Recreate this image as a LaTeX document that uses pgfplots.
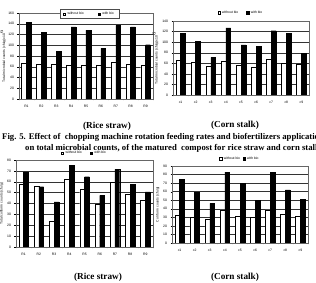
\documentclass[border=0pt]{standalone}
\usepackage{pgfplots}
\pgfplotsset{compat=1.18}
\usepackage{fontspec}
\setmainfont{Liberation Serif}
\newfontfamily\chartfont{Liberation Sans}
\newcommand{\tinyfont}{\chartfont\fontsize{3.4}{4}\selectfont}

\pgfplotsset{
  panel/.style={
    scale only axis,
    anchor=south west,
    ybar=0pt,
    bar width=4.8pt,
    xmin=0.5, xmax=9.5,
    ymin=0,
    xtick={1,...,9},
    minor xtick={0.5,1.5,...,9.5},
    major x tick style={draw=none},
    minor x tick style={black, line width=0.3pt},
    tick align=outside,
    ytick pos=left,
    xtick pos=bottom,
    major tick length=1.5pt,
    minor tick length=1.5pt,
    ymajorgrids,
    major grid style={black!80, line width=0.4pt},
    axis line style={black!60, line width=0.4pt},
    tick style={black, line width=0.3pt},
    tick label style={font=\tinyfont},
    /pgf/number format/assume math mode=true,
    label style={font=\tinyfont},
    ylabel shift=-3pt,
    xticklabel style={yshift=-1pt},
    legend columns=2,
    legend style={font=\tinyfont, draw=none, fill=none,
      /tikz/every even column/.append style={column sep=6pt}},
    legend image code/.code={\draw[#1, line width=0.3pt] (0pt,-1pt) rectangle (2.2pt,1.2pt);},
  },
  wobio/.style={draw=black, fill=white, line width=0.4pt},
  wbio/.style={draw=black, fill=black, line width=0.4pt},
}

\begin{document}
\begin{tikzpicture}
\clip (0pt,0pt) rectangle (316pt,283pt);
\fill[white] (0pt,0pt) rectangle (316pt,283pt);

% ---------- Total microbial counts, rice straw ----------
\begin{axis}[panel, at={(19pt,184pt)}, width=134pt, height=86pt,
  ymax=160, ytick={0,20,...,160},
  xticklabels={R1,R2,R3,R4,R5,R6,R7,R8,R9},
  ylabel={Total microbial counts (cfu/g)x10$^{6}$},
  ylabel shift=-4.5pt,
  legend style={at={(0.526,0.99)}, anchor=center, draw=black!70, fill=white,
    line width=0.3pt, inner xsep=3pt, inner ysep=0.8pt,
    /tikz/every even column/.append style={column sep=12pt}}]
\addplot[wobio] coordinates {(1,67) (2,65) (3,65) (4,63.5) (5,63.5) (6,63.5) (7,68.5) (8,65) (9,62)};
\addplot[wbio] coordinates {(1,142) (2,124) (3,88) (4,134) (5,128) (6,94) (7,137) (8,134) (9,101)};
\legend{without bio, with bio}
\node[font=\tinyfont] at (axis cs:2,0) [yshift=-11pt] {1000rpm};
\node[font=\tinyfont] at (axis cs:5,0) [yshift=-11pt] {1200rpm};
\node[font=\tinyfont] at (axis cs:7.5,0) [yshift=-11pt] {1500rpm};
\end{axis}

% ---------- Total microbial counts, corn stalk ----------
\begin{axis}[panel, at={(173pt,188pt)}, width=136pt, height=74pt,
  ymax=140, ytick={0,20,...,140},
  xticklabels={c1,c2,c3,c4,c5,c6,c7,c8,c9},
  ylabel={Total microbial counts (cfu/g)x10$^{6}$},
  legend style={at={(0.5,1.0)}, anchor=south, yshift=2pt}]
\addplot[wobio] coordinates {(1,66) (2,61.4) (3,54.5) (4,64) (5,56) (6,52.5) (7,67) (8,60) (9,58)};
\addplot[wbio] coordinates {(1,117) (2,102) (3,71) (4,127) (5,95) (6,92.5) (7,121.6) (8,116.5) (9,78.5)};
\legend{without bio, with bio}
\node[font=\tinyfont] at (axis cs:1.5,0) [yshift=-13pt] {1000rpm};
\node[font=\tinyfont] at (axis cs:5.3,0) [yshift=-13pt] {1200rpm};
\node[font=\tinyfont] at (axis cs:8,0) [yshift=-13pt] {1500rpm};
\end{axis}

% ---------- Coliform counts, rice straw ----------
\begin{axis}[panel, at={(16pt,36pt)}, width=137pt, height=87pt,
  ymax=80, ytick={0,10,...,80},
  xticklabels={R1,R2,R3,R4,R5,R6,R7,R8,R9},
  ylabel={Total coliform counts (cfu/g)},
  legend style={at={(0.5,1.0)}, anchor=south, yshift=0.5pt}]
\addplot[wobio] coordinates {(1,57.8) (2,56) (3,23.7) (4,62.8) (5,53.2) (6,39.4) (7,59.7) (8,48.6) (9,43)};
\addplot[wbio] coordinates {(1,69) (2,55.4) (3,41.5) (4,75) (5,64.6) (6,47.4) (7,71.4) (8,57.8) (9,50.8)};
\legend{without bio, with bio}
\node[font=\tinyfont] at (axis cs:2.3,0) [yshift=-18pt] {1000rpm};
\node[font=\tinyfont] at (axis cs:5.5,0) [yshift=-18pt] {1200rpm};
\node[font=\tinyfont] at (axis cs:8,0) [yshift=-18pt] {1500rpm};
\end{axis}

% ---------- Coliform counts, corn stalk ----------
\begin{axis}[panel, at={(172pt,40pt)}, width=136pt, height=77pt,
  ymax=90, ytick={0,10,...,90},
  xticklabels={c1,c2,c3,c4,c5,c6,c7,c8,c9},
  ylabel={Coli form counts (cfu/g)},
  legend style={at={(0.5,1.0)}, anchor=south, yshift=1pt,
    /tikz/every even column/.append style={column sep=0.5pt}}]
\addplot[wobio] coordinates {(1,32.8) (2,29.7) (3,28.2) (4,38.6) (5,31.3) (6,29.7) (7,38.6) (8,34) (9,31.3)};
\addplot[wbio] coordinates {(1,74.5) (2,59) (3,46.3) (4,82.7) (5,70) (6,50.2) (7,82.3) (8,62.2) (9,51)};
\legend{without bio, with bio}
\node[font=\tinyfont] at (axis cs:2.4,0) [yshift=-15pt] {1000rpm};
\node[font=\tinyfont] at (axis cs:5.3,0) [yshift=-15pt] {1200rpm};
\node[font=\tinyfont] at (axis cs:7.6,0) [yshift=-15pt] {1500rpm};
\end{axis}

% ---------- panel titles and caption ----------
\node[font=\bfseries\fontsize{9.2}{11}\selectfont] at (107pt,157pt) {(Rice straw)};
\node[font=\bfseries\fontsize{9.2}{11}\selectfont] at (235pt,158pt) {(Corn stalk)};
\node[font=\bfseries\fontsize{9.2}{11}\selectfont] at (98pt,6pt) {(Rice straw)};
\node[font=\bfseries\fontsize{9.2}{11}\selectfont] at (235pt,6pt) {(Corn stalk)};
\node[anchor=west, inner sep=0pt, font=\bfseries\fontsize{8.7}{10}\selectfont] at (2pt,145.5pt)
  {Fig. 5. Effect of\ \ chopping machine rotation feeding rates and biofertilizers application};
\node[anchor=west, inner sep=0pt, font=\bfseries\fontsize{8.7}{10}\selectfont] at (25pt,135pt)
  {on total microbial counts, of the matured\ \ compost for rice straw and corn stalk};
\end{tikzpicture}
\end{document}
